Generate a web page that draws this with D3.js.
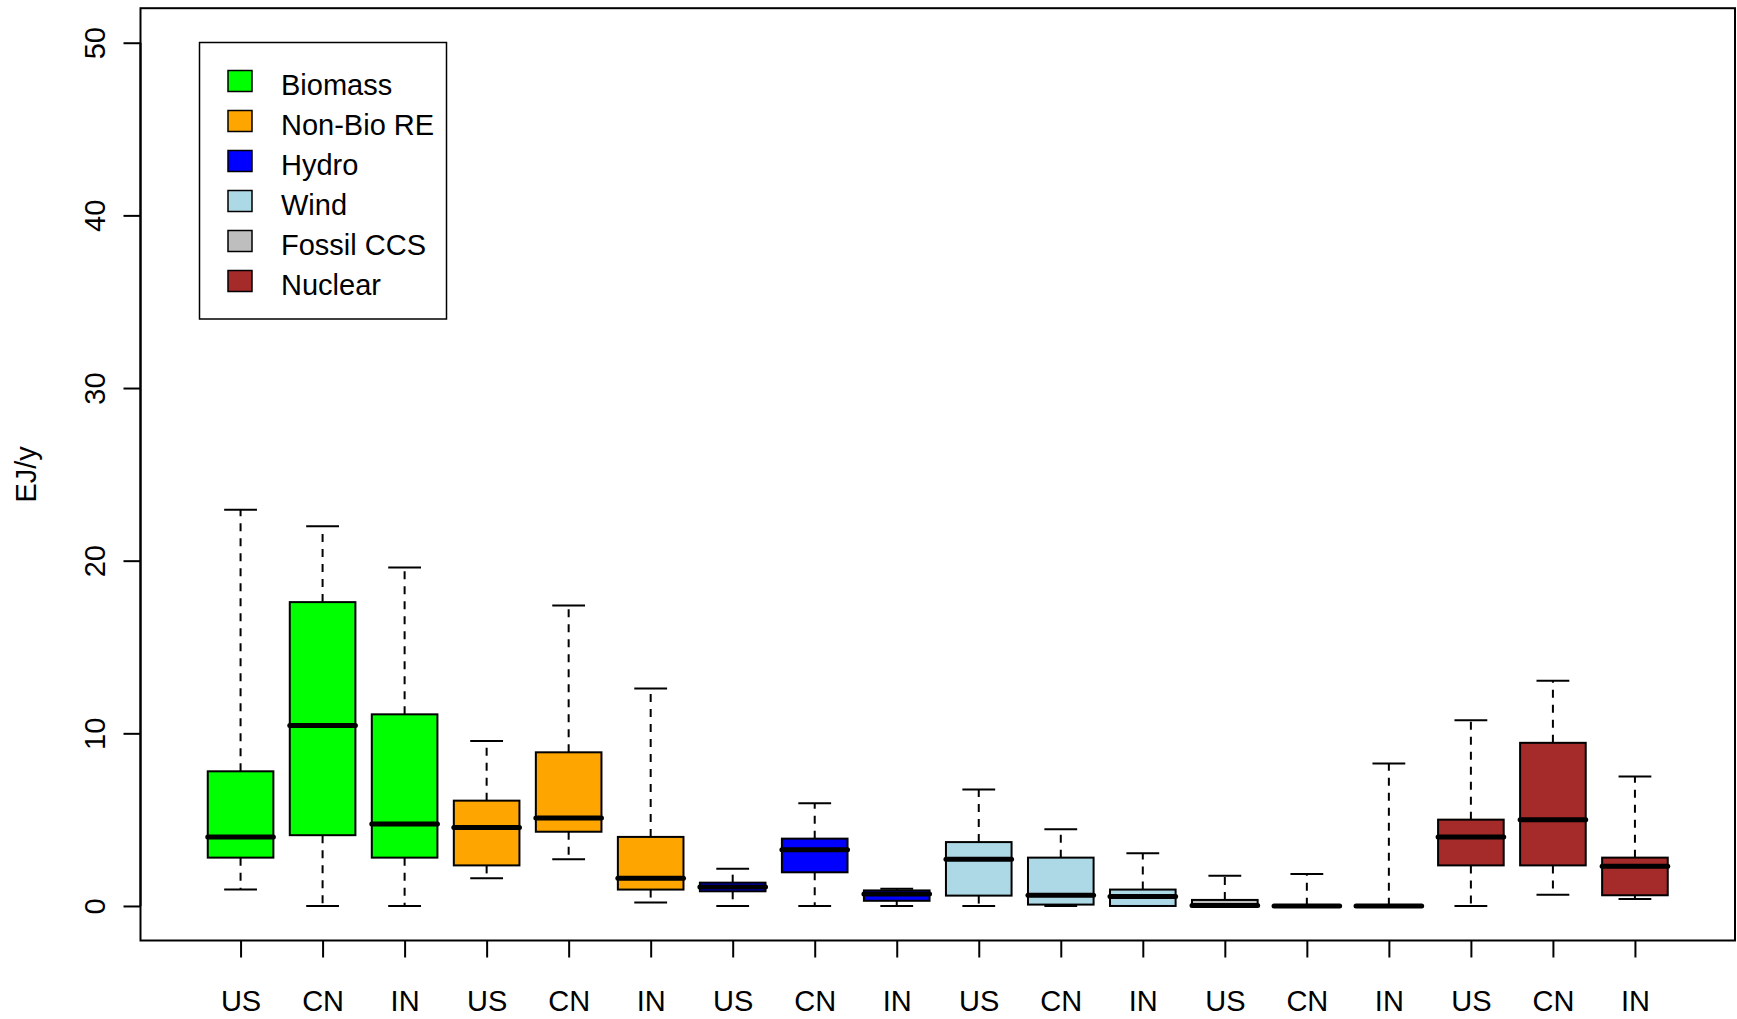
<!DOCTYPE html>
<html>
<head>
<meta charset="utf-8">
<script src="https://cdn.jsdelivr.net/npm/d3@7"></script>
<style>
  html, body { margin: 0; padding: 0; background: #fff; }
  svg { display: block; }
  text { font-family: "Liberation Sans", Arial, Helvetica, sans-serif; fill: #000; }
</style>
</head>
<body>
<svg id="chart" width="1737" height="1019"></svg>
<script>
// Technologies (one colour each) and the three regions shown per technology
const technologies = ["Biomass", "Non-Bio RE", "Hydro", "Wind", "Fossil CCS", "Nuclear"];
const techColors   = ["#00ff00", "#ffa500", "#0000ff", "#add8e6", "#bebebe", "#a52a2a"];
const regions      = ["US", "CN", "IN"];

// Five-number summaries (EJ/y), in technology order, US / CN / IN within each
const whiskerLow  = [0.95, 0,    0,    1.6,  2.7,  0.2,  0,    0,    0,    0,    0,    0,    0,    0,    0,    0,    0.65, 0.4];
const quartile1   = [2.8,  4.1,  2.8,  2.35, 4.3,  0.95, 0.85, 1.95, 0.3,  0.6,  0.08, 0,    0,    0,    0,    2.35, 2.35, 0.62];
const medians     = [4.0,  10.45,4.75, 4.55, 5.1,  1.6,  1.1,  3.25, 0.7,  2.7,  0.62, 0.55, 0.03, 0,    0,    4.0,  5.0,  2.3];
const quartile3   = [7.8,  17.6, 11.1, 6.1,  8.9,  4.0,  1.35, 3.9,  0.9,  3.7,  2.8,  0.95, 0.35, 0.02, 0.02, 5.0,  9.45, 2.8];
const whiskerHigh = [22.95,22.0, 19.6, 9.55, 17.4, 12.6, 2.15, 5.95, 1.0,  6.75, 4.45, 3.05, 1.75, 1.85, 8.25, 10.75,13.05,7.5];

const yTicks = [0, 10, 20, 30, 40, 50];
const yTitle = "EJ/y";

// One record per box
const boxes = whiskerLow.map((lo, i) => ({
  pos: i + 1,
  label: regions[i % 3],
  color: techColors[Math.floor(i / 3)],
  lo, q1: quartile1[i], med: medians[i], q3: quartile3[i], hi: whiskerHigh[i]
}));

const svg = d3.select("#chart");
const n = boxes.length;

// Plot region: x spans positions 0.5..n+0.5 padded by 4%, y spans 0..50 padded by 4%
const plotL = 140.5, plotR = 1735, plotT = 8.2, plotB = 940.5;
const xPad = (n) * 0.04;
const x = d3.scaleLinear().domain([0.5 - xPad, n + 0.5 + xPad]).range([plotL, plotR]);
const y = d3.scaleLinear().domain([-2, 52]).range([plotB, plotT]);

const unit = x(1) - x(0);
const boxW = 0.8 * unit;
const capW = 0.5 * boxW;

const fontSize = 29;

// Whiskers (dashed) and staples
const g = svg.append("g");
const bx = g.selectAll("g.box").data(boxes).join("g").attr("class", "box");

bx.filter(d => d.hi > d.q3).append("line")
  .attr("x1", d => x(d.pos)).attr("x2", d => x(d.pos))
  .attr("y1", d => y(d.q3)).attr("y2", d => y(d.hi))
  .attr("stroke", "#000").attr("stroke-width", 2).attr("stroke-dasharray", "8,7");
bx.filter(d => d.q1 > d.lo).append("line")
  .attr("x1", d => x(d.pos)).attr("x2", d => x(d.pos))
  .attr("y1", d => y(d.q1)).attr("y2", d => y(d.lo))
  .attr("stroke", "#000").attr("stroke-width", 2).attr("stroke-dasharray", "8,7");

bx.append("line")
  .attr("x1", d => x(d.pos) - capW / 2).attr("x2", d => x(d.pos) + capW / 2)
  .attr("y1", d => y(d.hi)).attr("y2", d => y(d.hi))
  .attr("stroke", "#000").attr("stroke-width", 2);
bx.append("line")
  .attr("x1", d => x(d.pos) - capW / 2).attr("x2", d => x(d.pos) + capW / 2)
  .attr("y1", d => y(d.lo)).attr("y2", d => y(d.lo))
  .attr("stroke", "#000").attr("stroke-width", 2);

// Boxes
bx.append("rect")
  .attr("x", d => x(d.pos) - boxW / 2)
  .attr("width", boxW)
  .attr("y", d => y(d.q3))
  .attr("height", d => Math.max(0, y(d.q1) - y(d.q3)))
  .attr("fill", d => d.color)
  .attr("stroke", "#000").attr("stroke-width", 2);

// Medians
bx.append("line")
  .attr("x1", d => x(d.pos) - boxW / 2).attr("x2", d => x(d.pos) + boxW / 2)
  .attr("y1", d => y(d.med)).attr("y2", d => y(d.med))
  .attr("stroke", "#000").attr("stroke-width", 5).attr("stroke-linecap", "round");

// Frame
svg.append("rect")
  .attr("x", plotL).attr("y", plotT)
  .attr("width", plotR - plotL).attr("height", plotB - plotT)
  .attr("fill", "none").attr("stroke", "#000").attr("stroke-width", 2);

// Y axis
const yAxis = svg.append("g")
  .attr("transform", `translate(${plotL},0)`)
  .call(d3.axisLeft(y).tickValues(yTicks).tickSize(17).tickFormat(d3.format("d")));
yAxis.select(".domain")
  .attr("d", `M0,${y(0)}V${y(50)}`)
  .attr("stroke-width", 2);
yAxis.selectAll(".tick line").attr("stroke-width", 2);
yAxis.selectAll(".tick text")
  .attr("font-size", fontSize)
  .attr("font-family", "Liberation Sans, Arial, sans-serif")
  .attr("x", 0).attr("dy", null).attr("y", 0)
  .attr("text-anchor", "middle")
  .attr("transform", `translate(${105 - plotL},0) rotate(-90)`);

// X axis
const xAxis = svg.append("g")
  .attr("transform", `translate(0,${plotB})`)
  .call(d3.axisBottom(x).tickValues(boxes.map(d => d.pos)).tickSize(17)
        .tickFormat((d, i) => boxes[i].label));
xAxis.select(".domain").remove();
xAxis.selectAll(".tick line").attr("stroke-width", 2);
xAxis.selectAll(".tick text")
  .attr("font-size", fontSize)
  .attr("font-family", "Liberation Sans, Arial, sans-serif")
  .attr("dy", null)
  .attr("y", 1011 - plotB);

// Y title
svg.append("text")
  .attr("transform", `translate(36,${(plotT + plotB) / 2}) rotate(-90)`)
  .attr("text-anchor", "middle")
  .attr("font-size", fontSize)
  .text(yTitle);

// Legend
const legend = svg.append("g");
legend.append("rect")
  .attr("x", 199.5).attr("y", 42.5).attr("width", 247).attr("height", 276.5)
  .attr("fill", "#fff").attr("stroke", "#000").attr("stroke-width", 1.5);
const rows = legend.selectAll("g.row").data(technologies).join("g").attr("class", "row")
  .attr("transform", (d, i) => `translate(0,${81 + i * 40})`);
rows.append("rect")
  .attr("x", 228).attr("y", -10.5).attr("width", 24).attr("height", 21)
  .attr("fill", (d, i) => techColors[i]).attr("stroke", "#000").attr("stroke-width", 1.5);
rows.append("text")
  .attr("x", 281).attr("y", 13.5)
  .attr("font-size", fontSize)
  .text(d => d);
</script>
</body>
</html>
